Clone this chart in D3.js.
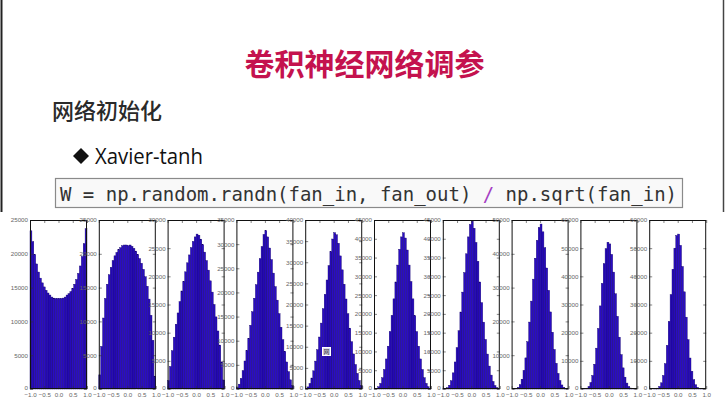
<!DOCTYPE html>
<html><head><meta charset="utf-8">
<script src="https://cdn.jsdelivr.net/npm/d3@7"></script>
<style>html,body{margin:0;padding:0;background:#fff;}svg{display:block;}</style>
</head><body>
<svg id="c" width="725" height="403"></svg>
<script>
// ---- data ----
const titleText = "卷积神经网络调参";
const subTitle = "网络初始化";
const bulletText = "Xavier-tanh";
const codeParts = ["W = np.random.randn(fan_in, fan_out) ", "/", " np.sqrt(fan_in)"];
const panelMax = [25000, 25000, 30000, 35000, 40000, 45000, 45000, 50000, 60000, 60000];
const panelStep = [5000, 5000, 5000, 5000, 5000, 5000, 5000, 10000, 10000, 10000];
const xTickValues = [-1.0, -0.5, 0.0, 0.5, 1.0];
const layer1 = [23400,21800,19900,18500,17300,16400,15700,15100,14600,14200,13900,13600,13450,13400,13400,13400,13400,13450,13600,13900,14100,14400,14900,15500,16200,17100,18200,19600,21500,23700];
const layer2 = [2100,6300,10500,13400,15500,16900,18000,19000,19700,20200,20600,20900,21200,21300,21300,21200,21300,21100,20800,20400,19900,19300,18600,17700,16600,15200,13300,10900,7200,1900];
const layer3 = [1500,4000,6800,9200,11500,13500,15500,17400,19100,20800,22400,23800,25100,26200,27000,27500,27300,26600,25600,24300,22800,21100,19200,17200,15000,12800,10300,7800,4800,1600];
const layer4 = [300,1000,2200,3800,5800,8000,10500,13200,16000,18800,21600,24200,27000,29500,32000,32800,31500,29200,26800,24000,21200,18400,15600,12800,10200,7800,5600,3600,1900,700];
const layer5 = [150,500,1300,2600,4300,6600,9300,12300,15600,19000,22400,25800,29200,32500,35500,37000,36500,34500,31500,28200,24800,21300,17800,14400,11200,8300,5800,3700,2000,800];
const layer6 = [50,200,600,1500,3000,5200,8000,11400,15300,19600,24000,28500,33000,37200,40500,41600,40200,37000,33000,28600,24000,19500,15300,11400,8000,5200,3000,1500,600,200];
const layer7 = [20,100,350,1000,2200,4300,7200,11000,15500,20500,25800,31000,36000,40500,43800,44700,42800,39000,34000,28500,23000,17800,13200,9300,6100,3700,2000,900,350,100];
const layer8 = [0,30,150,500,1300,2900,5500,9200,14000,19800,26000,32500,38700,44000,47800,48800,46500,41800,35800,29200,22800,16800,11700,7600,4600,2500,1200,500,150,40];
const layer9 = [0,20,80,300,900,2300,4800,8800,14500,21500,29500,37500,44500,49800,52100,51500,47800,41500,33800,25800,18400,12200,7500,4200,2100,900,350,100,30,0];
const layer10 = [0,0,20,80,300,900,2200,4800,9000,15500,24000,33500,42500,50000,54500,55000,51000,43500,34500,25500,17500,11000,6300,3300,1500,600,200,60,10,0];
const layers = [layer1, layer2, layer3, layer4, layer5, layer6, layer7, layer8, layer9, layer10];

// ---- drawing ----
const svg = d3.select("#c");

// slide borders
svg.append("line").attr("x1",1.5).attr("x2",1.5).attr("y1",0).attr("y2",212).attr("stroke","#222").attr("stroke-width",2);
svg.append("line").attr("x1",723.5).attr("x2",723.5).attr("y1",0).attr("y2",212).attr("stroke","#444").attr("stroke-width",1.5);

svg.append("text").text(titleText)
  .attr("x", 364.5).attr("y", 62).attr("text-anchor","middle").attr("dominant-baseline","central")
  .attr("font-family","'Noto Sans CJK SC'").attr("font-weight","bold").attr("font-size",30)
  .attr("fill","#c4124e");

svg.append("text").text(subTitle)
  .attr("x", 52).attr("y", 109).attr("dominant-baseline","central")
  .attr("font-family","'Noto Sans CJK SC'").attr("font-weight","500").attr("font-size",22)
  .attr("fill","#2a2a2a");

svg.append("path").attr("d","M81,148 L89,156 L81,164 L73,156 Z").attr("fill","#111");
svg.append("text").text(bulletText)
  .attr("x", 95).attr("y", 164)
  .attr("font-family","'Open Sans'").attr("font-size",21)
  .attr("textLength",108).attr("lengthAdjust","spacingAndGlyphs")
  .attr("fill","#111");

svg.append("rect").attr("x",55.5).attr("y",178.5).attr("width",627).attr("height",29)
  .attr("fill","#f9f9f9").attr("stroke","#8a8a8a").attr("stroke-width",1.2);
const code = svg.append("text").attr("x",60).attr("y",201)
  .attr("font-family","'DejaVu Sans Mono'").attr("font-size",19).attr("fill","#333")
  .attr("textLength",617).attr("lengthAdjust","spacingAndGlyphs")
  .attr("xml:space","preserve").style("white-space","pre");
code.append("tspan").text(codeParts[0]);
code.append("tspan").text(codeParts[1]).attr("fill","#a53fc4");
code.append("tspan").text(codeParts[2]);

// histograms
const nBins = 30;
const edges = d3.range(nBins + 1).map(i => -1 + 2 * i / nBins);
const plotTop = 220, plotBottom = 389, pw = 57, x0 = 30, gap = 68.8;

layers.forEach((vals, p) => {
  const left = x0 + p * gap;
  const x = d3.scaleLinear().domain([-1, 1]).range([left, left + pw]);
  const y = d3.scaleLinear().domain([0, panelMax[p]]).range([plotBottom, plotTop]);
  const g = svg.append("g");
  g.append("rect").attr("x",left).attr("y",plotTop).attr("width",pw).attr("height",plotBottom-plotTop).attr("fill","#fff");
  g.selectAll("rect.bar").data(vals).join("rect").attr("class","bar")
    .attr("x",(d,i)=>x(edges[i])).attr("width",(d,i)=>x(edges[i+1])-x(edges[i]))
    .attr("y",d=>y(d)).attr("height",d=>plotBottom-y(d))
    .attr("fill","#2a0cc4").attr("stroke","#12006a").attr("stroke-width",0.4);
  const yt = d3.range(0, panelMax[p] + 1, panelStep[p]);
  const fmt = d => String(d);
  const ax = g.append("g").attr("transform",`translate(${left},0)`)
    .call(d3.axisLeft(y).tickValues(yt).tickSize(-3).tickPadding(2).tickFormat(fmt));
  ax.selectAll(".tick text").filter(d => d === 0).attr("dy","0.1em");
  const axR = g.append("g").attr("transform",`translate(${left+pw},0)`)
    .call(d3.axisRight(y).tickValues(yt).tickSize(-3).tickFormat(""));
  const axB = g.append("g").attr("transform",`translate(0,${plotBottom})`)
    .call(d3.axisBottom(x).tickValues(xTickValues).tickSize(-3).tickPadding(4).tickFormat(d3.format(".1f")));
  const axT = g.append("g").attr("transform",`translate(0,${plotTop})`)
    .call(d3.axisTop(x).tickValues(xTickValues).tickSize(-3).tickFormat(""));
  [ax, axR, axB, axT].forEach(a => {
    a.select(".domain").remove();
    a.selectAll(".tick line").attr("stroke","#333").attr("stroke-width",0.6);
    a.selectAll("text").attr("font-family","'Liberation Sans Narrow', 'Liberation Sans'").attr("font-size",6.2).attr("fill","#666");
  });
  g.append("rect").attr("x",left+0.5).attr("y",plotTop+0.5).attr("width",pw-1).attr("height",plotBottom-plotTop-1)
    .attr("fill","none").attr("stroke","#111").attr("stroke-width",1);
});

// small overlay icon inside 5th panel
svg.append("rect").attr("x",322.5).attr("y",347.5).attr("width",8).attr("height",8).attr("fill","#dcd8f0").attr("stroke","#fff");
svg.append("text").text("网").attr("x",326.5).attr("y",351.5).attr("text-anchor","middle").attr("dominant-baseline","central")
  .attr("font-family","'Noto Sans CJK SC'").attr("font-size",6).attr("fill","#333");
</script>
</body></html>
